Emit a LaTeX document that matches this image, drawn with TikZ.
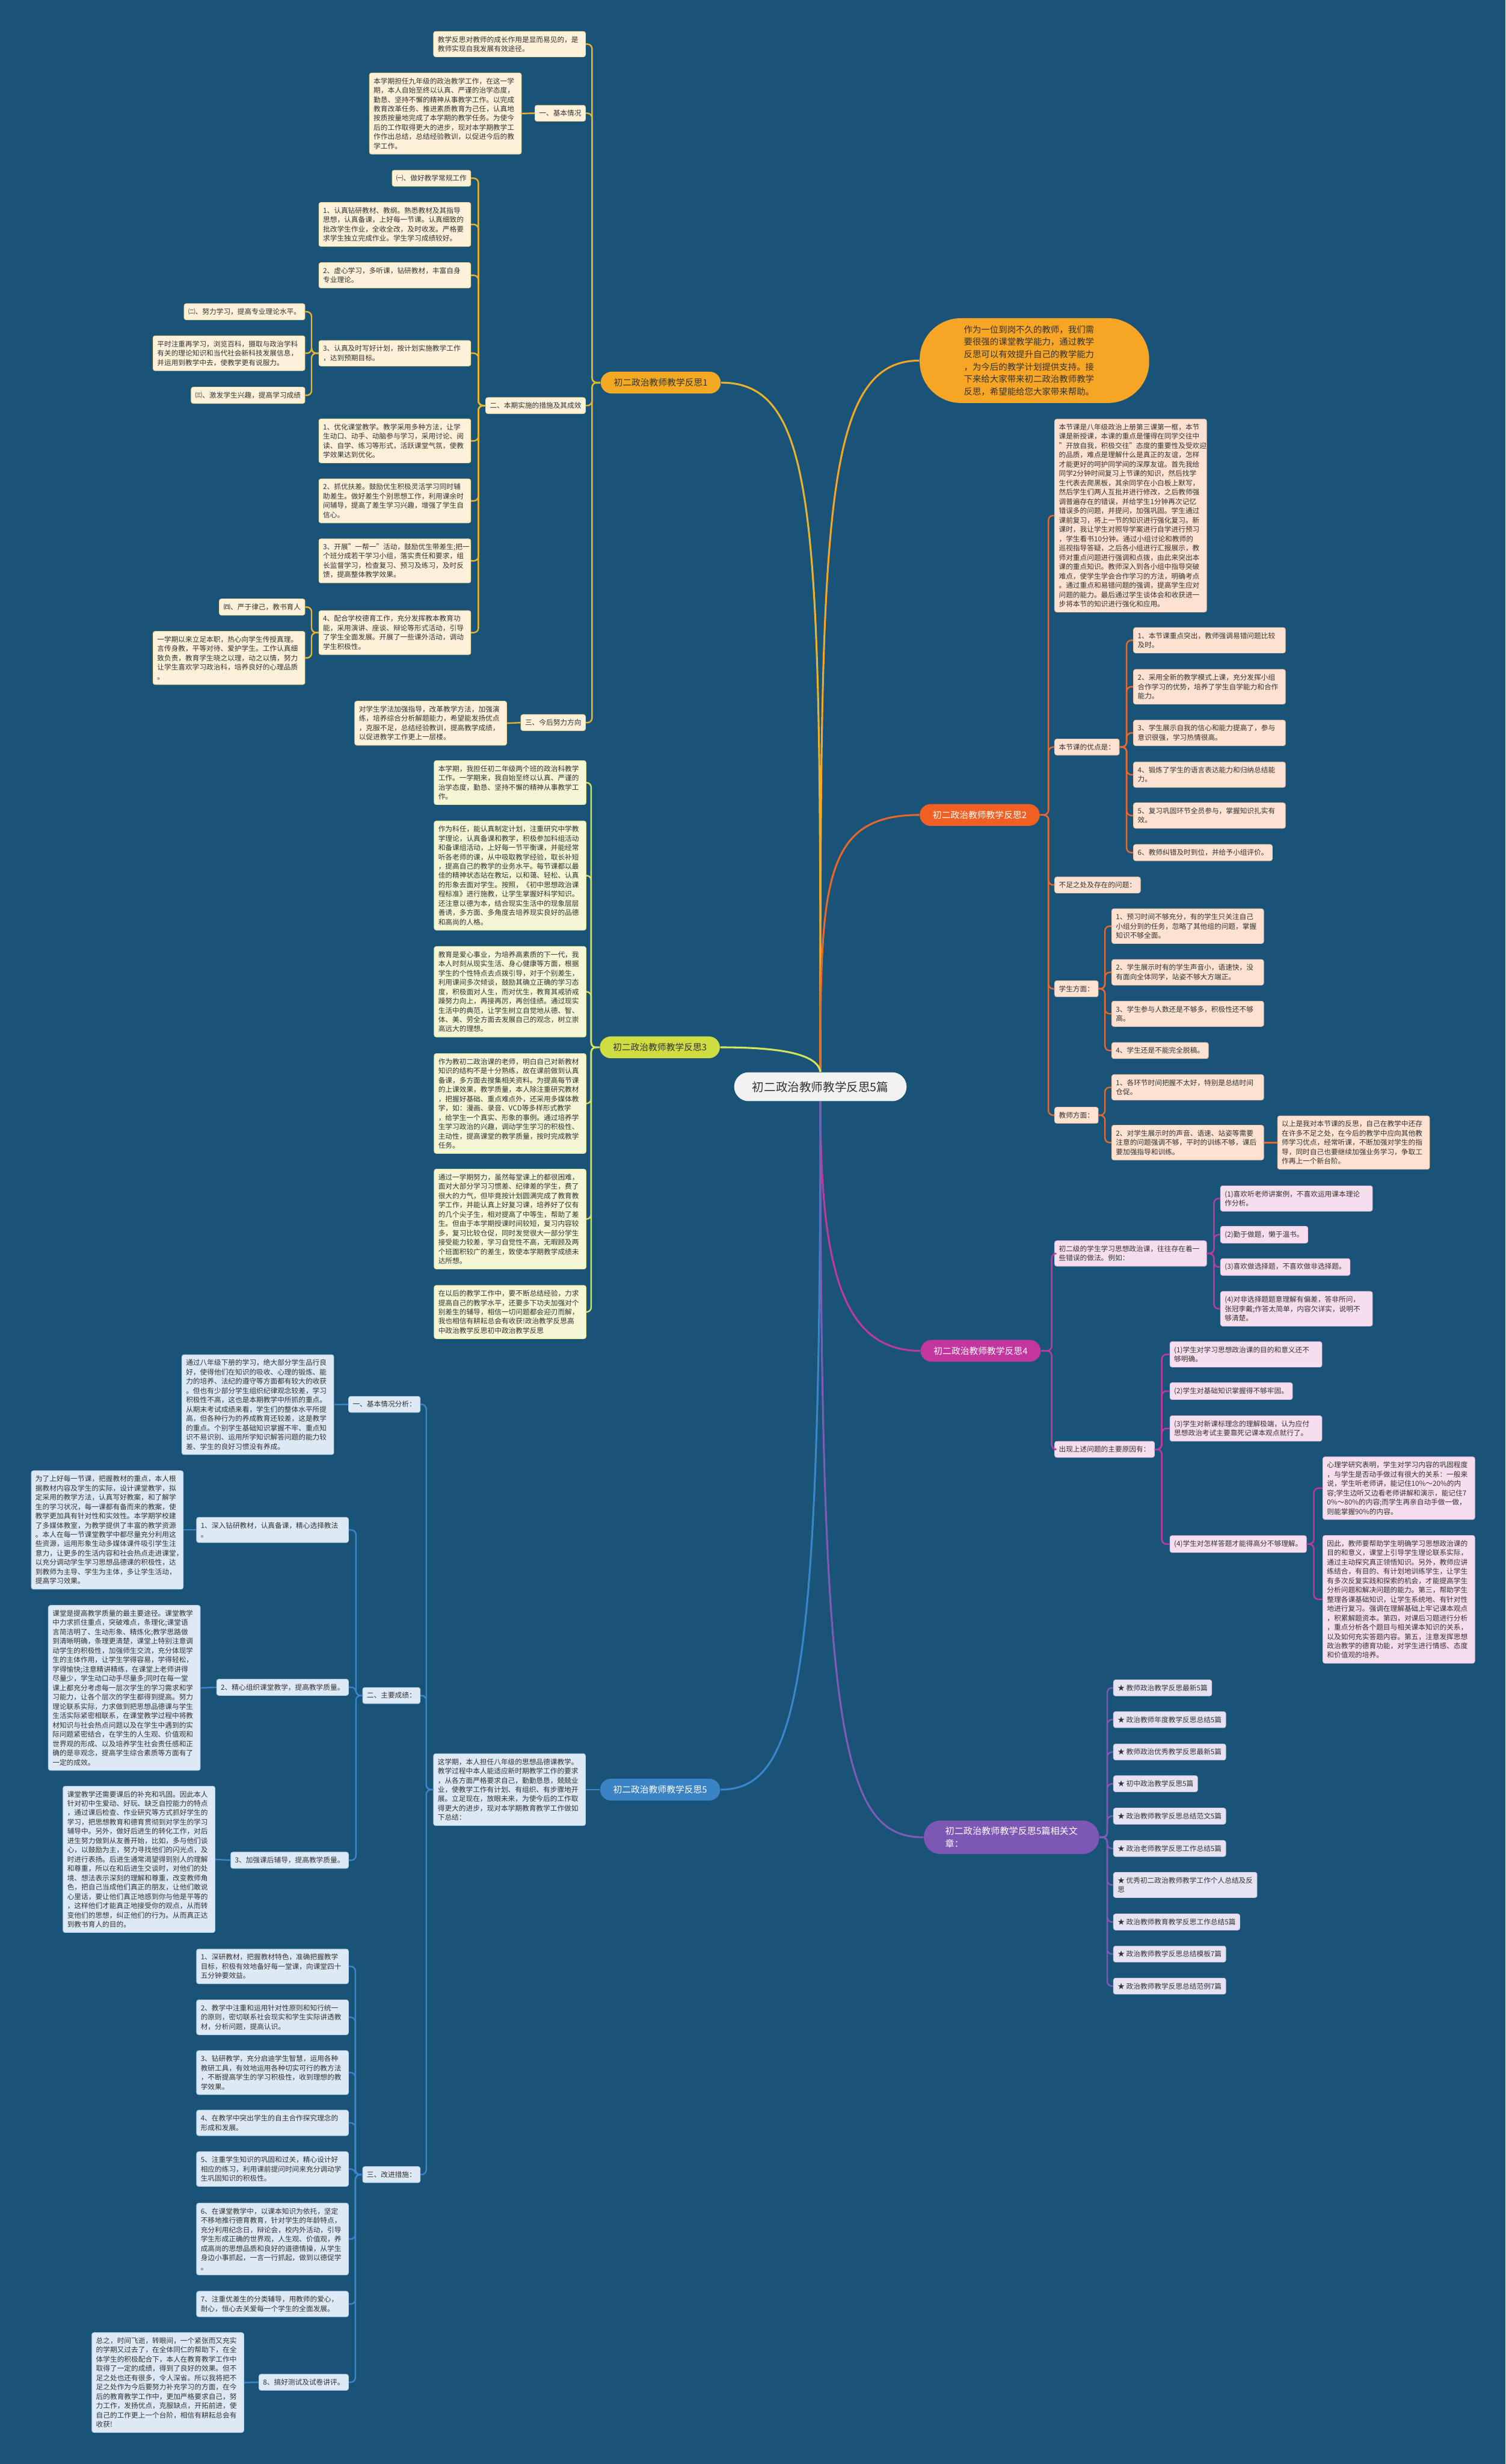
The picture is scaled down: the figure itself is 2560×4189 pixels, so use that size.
\documentclass[tikz,border=0pt]{standalone}
\usepackage{fontspec}
\setmainfont{Noto Sans CJK SC}
\definecolor{bgblue}{HTML}{1A5378}
\definecolor{ink}{HTML}{333333}
\definecolor{rootfill}{HTML}{F2F2F2}
\definecolor{goldline}{HTML}{E8B42C}
\definecolor{goldfill}{HTML}{F4A922}
\definecolor{goldleaf}{HTML}{FDF1D9}
\definecolor{introfill}{HTML}{F6A524}
\definecolor{redline}{HTML}{E9672A}
\definecolor{redfill}{HTML}{F15F22}
\definecolor{redleaf}{HTML}{FDE2D2}
\definecolor{limeline}{HTML}{D6E35C}
\definecolor{limefill}{HTML}{CFDC42}
\definecolor{limeleaf}{HTML}{F4F6D6}
\definecolor{pinkline}{HTML}{C03A9C}
\definecolor{pinkfill}{HTML}{C2369E}
\definecolor{pinkleaf}{HTML}{F7DEEF}
\definecolor{blueline}{HTML}{3B86C9}
\definecolor{bluefill}{HTML}{3A84C6}
\definecolor{blueleaf}{HTML}{DDE9F5}
\definecolor{purpleline}{HTML}{7F5AB6}
\definecolor{purplefill}{HTML}{7D57B4}
\definecolor{purpleleaf}{HTML}{E7E2F1}
\newcommand\bodyfont{\fontsize{3.4}{4.5}\selectfont}
\newcommand\branchfont{\fontsize{4.3}{5.4}\selectfont}
\newcommand\rootfont{\fontsize{5.7}{7}\selectfont}
\newcommand\introfont{\fontsize{4.2}{6}\selectfont}
\begin{document}
\begin{tikzpicture}[x=0.01cm, y=-0.01cm,
  rootbox/.style={fill=rootfill, text=ink, rounded corners=0.245cm, minimum width=2.93cm, minimum height=0.49cm, inner sep=0pt, font=\rootfont},
  branchbox/.style={rounded corners=0.185cm, minimum width=2.04cm, minimum height=0.37cm, inner sep=0pt, font=\branchfont},
  leaf/.style={rounded corners=0.035cm, inner xsep=0.07cm, inner ysep=0.08cm, align=left, text=ink, font=\bodyfont, line width=0.3pt},
  para/.style={leaf, text width=2.44cm},
  tone1/.style={fill=goldleaf, draw=goldline!45},
  tone2/.style={fill=redleaf, draw=redline!35},
  tone3/.style={fill=limeleaf, draw=limeline!60},
  tone4/.style={fill=pinkleaf, draw=pinkline!30},
  tone5/.style={fill=blueleaf, draw=blueline!35},
  tone6/.style={fill=purpleleaf, draw=purpleline!30},
  link/.style={line width=0.7pt, rounded corners=0.08cm},
  mainlink/.style={line width=0.9pt}
]
\useasboundingbox (0,0) rectangle (2560,4189);
\fill[bgblue] (0,0) rectangle (2560,4189);

\node[rootbox] (root) at (1395,1847.5) {初二政治教师教学反思5篇};
\node[branchbox, fill=goldfill, text=ink] (b1) at (1123.5,650.5) {初二政治教师教学反思1};
\node[fill=introfill, text=ink, rounded corners=0.7cm, minimum width=3.9cm, minimum height=1.44cm, text width=2.40cm, align=left, font=\introfont, inner sep=0pt] (intro) at (1759,613) {作为一位到岗不久的教师，我们需\\要很强的课堂教学能力，通过教学\\反思可以有效提升自己的教学能力\\，为今后的教学计划提供支持。接\\下来给大家带来初二政治教师教学\\反思，希望能给您大家带来帮助。};
\node[branchbox, fill=redfill, text=white] (b2) at (1666,1385.5) {初二政治教师教学反思2};
\node[branchbox, fill=limefill, text=ink] (b3) at (1122,1780.5) {初二政治教师教学反思3};
\node[branchbox, fill=pinkfill, text=white] (b4) at (1667.5,2296.5) {初二政治教师教学反思4};
\node[branchbox, fill=bluefill, text=white] (b5) at (1122.5,3042.5) {初二政治教师教学反思5};
\node[branchbox, fill=purplefill, text=white, minimum width=2.98cm, minimum height=0.57cm, rounded corners=0.28cm, align=left, font=\fontsize{4.4}{6}\selectfont] (b6) at (1720,3123.5) {初二政治教师教学反思5篇相关文\\章：};

\draw[mainlink, goldline] (root.north) .. controls (1395,900) and (1395,650.5) .. (b1.east);
\draw[mainlink, introfill] (root.north) .. controls (1395,900) and (1395,613) .. (intro.west);
\draw[mainlink, redline] (root.north) .. controls (1395,1500) and (1400,1385.5) .. (b2.west);
\draw[mainlink, limeline] (root.north) .. controls (1390,1790) and (1320,1780.5) .. (b3.east);
\draw[mainlink, pinkline] (root.south) .. controls (1395,2150) and (1430,2296.5) .. (b4.west);
\draw[mainlink, blueline] (root.south) .. controls (1395,2850) and (1360,3042.5) .. (b5.east);
\draw[mainlink, purpleline] (root.south) .. controls (1395,2950) and (1430,3123.5) .. (b6.west);

\node[para, tone1, anchor=east] (b1a) at (996,75) {教学反思对教师的成长作用是显而易见的，是\\教师实现自我发展有效途径。};
\node[leaf, tone1, anchor=east] (b1b) at (996,192.5) {一、基本情况};
\node[para, tone1, anchor=east] (b1b1) at (887,193) {本学期担任九年级的政治教学工作，在这一学\\期，本人自始至终以认真、严谨的治学态度，\\勤恳、坚持不懈的精神从事教学工作。以完成\\教育改革任务、推进素质教育为己任，认真地\\按质按量地完成了本学期的教学任务。为使今\\后的工作取得更大的进步，现对本学期教学工\\作作出总结，总结经验教训，以促进今后的教\\学工作。};
\node[leaf, tone1, anchor=east] (b1c) at (996,689.5) {二、本期实施的措施及其成效};
\node[leaf, tone1, anchor=east] (b1d) at (996,1228.5) {三、今后努力方向};
\node[para, tone1, anchor=east] (b1d1) at (862,1229.5) {对学生学法加强指导，改革教学方法，加强演\\练，培养综合分析解题能力，希望能发扬优点\\，克服不足，总结经验教训，提高教学成绩，\\以促进教学工作更上一层楼。};
\foreach \n in {b1a,b1b,b1c,b1d}
  \draw[link, goldline] (b1.west) -- ++(-14,0) |- (\n.east);
\draw[link, goldline] (b1b.west) -- (b1b1.east);
\draw[link, goldline] (b1d.west) -- (b1d1.east);

\node[leaf, tone1, anchor=east] (c1) at (801,303) {㈠、做好教学常规工作};
\draw[link, goldline] (b1c.west) -- ++(-12,0) |- (c1.east);
\foreach \i/\yy/\txt in {
  2/381.5/{1、认真钻研教材、教纲。熟悉教材及其指导\\思想，认真备课，上好每一节课。认真细致的\\批改学生作业，全收全改，及时收发。严格要\\求学生独立完成作业。学生学习成绩较好。},
  3/468/{2、虚心学习，多听课，钻研教材，丰富自身\\专业理论。},
  4/600.5/{3、认真及时写好计划，按计划实施教学工作\\，达到预期目标。},
  5/749.5/{1、优化课堂教学。教学采用多种方法，让学\\生动口、动手、动脑参与学习，采用讨论、阅\\读、自学、练习等形式，活跃课堂气氛，使教\\学效果达到优化。},
  6/851.5/{2、抓优扶差。鼓励优生积极灵活学习同时辅\\助差生。做好差生个别思想工作，利用课余时\\间辅导，提高了差生学习兴趣，增强了学生自\\信心。},
  7/953.5/{3、开展"一帮一"活动，鼓励优生带差生;把一\\个班分成若干学习小组，落实责任和要求，组\\长监督学习，检查复习、预习及练习，及时反\\馈，提高整体教学效果。},
  8/1075.5/{4、配合学校德育工作，充分发挥教本教育功\\能，采用演讲、座谈、辩论等形式活动，引导\\了学生全面发展。开展了一些课外活动，调动\\学生积极性。}} {
  \node[para, tone1, anchor=east] (c\i) at (801,\yy) {\txt};
  \draw[link, goldline] (b1c.west) -- ++(-12,0) |- (c\i.east);
}
\node[leaf, tone1, anchor=east] (c4a) at (519,530) {㈡、努力学习，提高专业理论水平。};
\node[para, tone1, anchor=east] (c4b) at (519,600.5) {平时注重再学习，浏览百科，摄取与政治学科\\有关的理论知识和当代社会新科技发展信息，\\并运用到教学中去，使教学更有说服力。};
\node[leaf, tone1, anchor=east] (c4c) at (519,672) {㈢、激发学生兴趣，提高学习成绩};
\node[leaf, tone1, anchor=east] (c8a) at (519,1032) {㈣、严于律己，教书育人};
\node[para, tone1, anchor=east] (c8b) at (519,1118.5) {一学期以来立足本职，热心向学生传授真理。\\言传身教，平等对待、爱护学生。工作认真细\\致负责，教育学生晓之以理，动之以情，努力\\让学生喜欢学习政治科，培养良好的心理品质\\。};
\foreach \n in {c4a,c4b,c4c}
  \draw[link, goldline] (c4.west) -- ++(-12,0) |- (\n.east);
\foreach \n in {c8a,c8b}
  \draw[link, goldline] (c8.west) -- ++(-12,0) |- (\n.east);

\node[para, tone2, anchor=west] (d1) at (1793,876.5) {本节课是八年级政治上册第三课第一框，本节\\课是新授课，本课的重点是懂得在同学交往中\\"开放自我，积极交往"态度的重要性及受欢迎\\的品质，难点是理解什么是真正的友谊，怎样\\才能更好的呵护同学间的深厚友谊。首先我给\\同学2分钟时间复习上节课的知识，然后找学\\生代表去爬黑板，其余同学在小白板上默写，\\然后学生们两人互批并进行修改，之后教师强\\调普遍存在的错误，并给学生1分钟再次记忆\\错误多的问题，并提问，加强巩固。学生通过\\课前复习，将上一节的知识进行强化复习。新\\课时，我让学生对照导学案进行自学进行预习\\，学生看书10分钟。通过小组讨论和教师的\\巡视指导答疑，之后各小组进行汇报展示，教\\师对重点问题进行强调和点拨，由此来突出本\\课的重点知识。教师深入到各小组中指导突破\\难点，使学生学会合作学习的方法，明确考点\\。通过重点和易错问题的强调，提高学生应对\\问题的能力。最后通过学生谈体会和收获进一\\步将本节的知识进行强化和应用。};
\node[leaf, tone2, anchor=west] (d2) at (1793,1270) {本节课的优点是：};
\node[leaf, tone2, anchor=west] (d3) at (1793,1504.5) {不足之处及存在的问题：};
\node[leaf, tone2, anchor=west] (d4) at (1793,1681) {学生方面：};
\node[leaf, tone2, anchor=west] (d5) at (1793,1896) {教师方面：};
\foreach \n in {d1,d2,d3,d4,d5}
  \draw[link, redline] (b2.east) -- ++(14,0) |- (\n.west);
\foreach \i/\yy/\txt in {
  a/1088.5/{1、本节课重点突出，教师强调易错问题比较\\及时。},
  b/1167.5/{2、采用全新的教学模式上课，充分发挥小组\\合作学习的优势，培养了学生自学能力和合作\\能力。},
  c/1246/{3、学生展示自我的信心和能力提高了，参与\\意识很强，学习热情很高。},
  d/1317/{4、锻炼了学生的语言表达能力和归纳总结能\\力。},
  e/1386.5/{5、复习巩固环节全员参与，掌握知识扎实有\\效。}} {
  \node[para, tone2, anchor=west] (d2\i) at (1927,\yy) {\txt};
  \draw[link, redline] (d2.east) -- ++(12,0) |- (d2\i.west);
}
\node[leaf, tone2, anchor=west] (d2f) at (1927,1449.5) {6、教师纠错及时到位，并给予小组评价。};
\draw[link, redline] (d2.east) -- ++(12,0) |- (d2f.west);
\node[para, tone2, anchor=west] (d4a) at (1890,1574.5) {1、预习时间不够充分，有的学生只关注自己\\小组分到的任务，忽略了其他组的问题，掌握\\知识不够全面。};
\node[para, tone2, anchor=west] (d4b) at (1890,1653) {2、学生展示时有的学生声音小，语速快，没\\有面向全体同学，站姿不够大方端正。};
\node[para, tone2, anchor=west] (d4c) at (1890,1723.5) {3、学生参与人数还是不够多，积极性还不够\\高。};
\node[leaf, tone2, anchor=west] (d4d) at (1890,1786) {4、学生还是不能完全脱稿。};
\foreach \n in {d4a,d4b,d4c,d4d}
  \draw[link, redline] (d4.east) -- ++(11,0) |- (\n.west);
\node[para, tone2, anchor=west] (d5a) at (1890,1848.5) {1、各环节时间把握不太好，特别是总结时间\\仓促。};
\node[para, tone2, anchor=west] (d5b) at (1890,1942.5) {2、对学生展示时的声音、语速、站姿等需要\\注意的问题强调不够，平时的训练不够，课后\\要加强指导和训练。};
\node[para, tone2, anchor=west] (d5b1) at (2172,1942.5) {以上是我对本节课的反思，自己在教学中还存\\在许多不足之处，在今后的教学中应向其他教\\师学习优点，经常听课，不断加强对学生的指\\导，同时自己也要继续加强业务学习，争取工\\作再上一个新台阶。};
\foreach \n in {d5a,d5b}
  \draw[link, redline] (d5.east) -- ++(11,0) |- (\n.west);
\draw[link, redline] (d5b.east) -- (d5b1.west);

\foreach \i/\yy/\txt in {
  1/1330.5/{本学期，我担任初二年级两个班的政治科教学\\工作。一学期来，我自始至终以认真、严谨的\\治学态度，勤恳、坚持不懈的精神从事教学工\\作。},
  2/1488.5/{作为科任，能认真制定计划，注重研究中学教\\学理论，认真备课和教学，积极参加科组活动\\和备课组活动，上好每一节平衡课，并能经常\\听各老师的课，从中吸取教学经验，取长补短\\，提高自己的教学的业务水平。每节课都以最\\佳的精神状态站在教坛，以和蔼、轻松、认真\\的形象去面对学生。按照，《初中思想政治课\\程标准》进行施教，让学生掌握好科学知识。\\还注意以德为本，结合现实生活中的现象层层\\善诱，多方面、多角度去培养现实良好的品德\\和高尚的人格。},
  3/1686/{教育是爱心事业，为培养高素质的下一代，我\\本人时刻从现实生活、身心健康等方面，根据\\学生的个性特点去点拨引导，对于个别差生，\\利用课间多次倾谈，鼓励其确立正确的学习态\\度，积极面对人生，而对优生，教育其戒骄戒\\躁努力向上，再接再厉，再创佳绩。通过现实\\生活中的典范，让学生树立自觉地从德、智、\\体、美、劳全方面去发展自己的观念，树立崇\\高远大的理想。},
  4/1876/{作为教初二政治课的老师，明白自己对新教材\\知识的结构不是十分熟练，故在课前做到认真\\备课，多方面去搜集相关资料。为提高每节课\\的上课效果，教学质量，本人除注重研究教材\\，把握好基础、重点难点外，还采用多媒体教\\学，如：漫画、录音、VCD等多样形式教学\\，给学生一个真实、形象的事例。通过培养学\\生学习政治的兴趣，调动学生学习的积极性、\\主动性，提高课堂的教学质量，按时完成教学\\任务。},
  5/2072.5/{通过一学期努力，虽然每堂课上的都很困难，\\面对大部分学习习惯差、纪律差的学生，费了\\很大的力气，但毕竟按计划圆满完成了教育教\\学工作，并能认真上好复习课，培养好了仅有\\的几个尖子生，相对提高了中等生，帮助了差\\生。但由于本学期授课时间较短，复习内容较\\多，复习比较仓促，同时发觉很大一部分学生\\接受能力较差，学习自觉性不高，无暇顾及两\\个班面积较广的差生，致使本学期教学成绩未\\达所想。},
  6/2230.5/{在以后的教学工作中，要不断总结经验，力求\\提高自己的教学水平，还要多下功夫加强对个\\别差生的辅导，相信一切问题都会迎刃而解，\\我也相信有耕耘总会有收获!政治教学反思高\\中政治教学反思初中政治教学反思}} {
  \node[para, tone3, anchor=east] (e\i) at (997,\yy) {\txt};
  \draw[link, limeline] (b3.west) -- ++(-14,0) |- (e\i.east);
}

\node[para, tone4, anchor=west] (f1) at (1793,2131) {初二级的学生学习思想政治课，往往存在着一\\些错误的做法。例如：};
\node[leaf, tone4, anchor=west] (f2) at (1793,2464) {出现上述问题的主要原因有：};
\foreach \n in {f1,f2}
  \draw[link, pinkline] (b4.east) -- ++(18,0) |- (\n.west);
\node[para, tone4, anchor=west] (f1a) at (2075,2037.5) {(1)喜欢听老师讲案例，不喜欢运用课本理论\\作分析。};
\node[leaf, tone4, anchor=west] (f1b) at (2075,2099) {(2)勤于做题，懒于温书。};
\node[leaf, tone4, anchor=west] (f1c) at (2075,2154) {(3)喜欢做选择题，不喜欢做非选择题。};
\node[para, tone4, anchor=west] (f1d) at (2075,2225) {(4)对非选择题题意理解有偏差，答非所问，\\张冠李戴;作答太简单，内容欠详实，说明不\\够清楚。};
\foreach \n in {f1a,f1b,f1c,f1d}
  \draw[link, pinkline] (f1.east) -- ++(12,0) |- (\n.west);
\node[para, tone4, anchor=west] (f2a) at (1989,2302.5) {(1)学生对学习思想政治课的目的和意义还不\\够明确。};
\node[leaf, tone4, anchor=west] (f2b) at (1989,2365) {(2)学生对基础知识掌握得不够牢固。};
\node[para, tone4, anchor=west] (f2c) at (1989,2428.5) {(3)学生对新课标理念的理解极端，认为应付\\思想政治考试主要靠死记课本观点就行了。};
\node[leaf, tone4, anchor=west] (f2d) at (1989,2625) {(4)学生对怎样答题才能得高分不够理解。};
\foreach \n in {f2a,f2b,f2c,f2d}
  \draw[link, pinkline] (f2.east) -- ++(12,0) |- (\n.west);
\node[para, tone4, anchor=west] (f2d1) at (2249,2530) {心理学研究表明，学生对学习内容的巩固程度\\，与学生是否动手做过有很大的关系：一般来\\说，学生听老师讲，能记住10\%～20\%的内\\容;学生边听又边看老师讲解和演示，能记住7\\0\%～80\%的内容;而学生再亲自动手做一做，\\则能掌握90\%的内容。};
\node[para, tone4, anchor=west] (f2d2) at (2249,2719) {因此，教师要帮助学生明确学习思想政治课的\\目的和意义，课堂上引导学生理论联系实际，\\通过主动探究真正领悟知识。另外，教师应讲\\练结合，有目的、有计划地训练学生，让学生\\有多次反复实践和探索的机会，才能提高学生\\分析问题和解决问题的能力。第三，帮助学生\\整理各课基础知识，让学生系统地、有针对性\\地进行复习。强调在理解基础上牢记课本观点\\，积累解题资本。第四，对课后习题进行分析\\，重点分析各个题目与相关课本知识的关系，\\以及如何充实答题内容。第五，注意发挥思想\\政治教学的德育功能，对学生进行情感、态度\\和价值观的培养。};
\foreach \n in {f2d1,f2d2}
  \draw[link, pinkline] (f2d.east) -- ++(12,0) |- (\n.west);

\node[para, tone5, anchor=east] (g) at (996,3042.5) {这学期，本人担任八年级的思想品德课教学。\\教学过程中本人能适应新时期教学工作的要求\\，从各方面严格要求自己，勤勤恳恳，兢兢业\\业，使教学工作有计划、有组织、有步骤地开\\展。立足现在，放眼未来，为使今后的工作取\\得更大的进步，现对本学期教育教学工作做如\\下总结：};
\draw[link, blueline] (b5.west) -- (g.east);
\node[leaf, tone5, anchor=east] (g1) at (715,2387.5) {一、基本情况分析：};
\node[leaf, tone5, anchor=east] (g2) at (715,2882.5) {二、主要成绩：};
\node[leaf, tone5, anchor=east] (g3) at (715,3697) {三、改进措施：};
\foreach \n in {g1,g2,g3}
  \draw[link, blueline] (g.west) -- ++(-12,0) |- (\n.east);
\node[para, tone5, anchor=east] (g1a) at (568,2388) {通过八年级下册的学习，绝大部分学生品行良\\好，使得他们在知识的吸收、心理的锻炼、能\\力的培养、法纪的遵守等方面都有较大的收获\\。但也有少部分学生组织纪律观念较差，学习\\积极性不高，这也是本期教学中所抓的重点。\\从期末考试成绩来看，学生们的整体水平所提\\高，但各种行为的养成教育还较差，这是教学\\的重点。个别学生基础知识掌握不牢、重点知\\识不易识别、运用所学知识解答问题的能力较\\差、学生的良好习惯没有养成。};
\draw[link, blueline] (g1.west) -- (g1a.east);
\node[para, tone5, anchor=east] (g2a) at (593,2601) {1、深入钻研教材，认真备课，精心选择教法\\。};
\node[leaf, tone5, anchor=east] (g2b) at (593,2868.5) {2、精心组织课堂教学，提高教学质量。};
\node[leaf, tone5, anchor=east] (g2c) at (593,3162.5) {3、加强课后辅导，提高教学质量。};
\foreach \n in {g2a,g2b,g2c}
  \draw[link, blueline] (g2.west) -- ++(-11,0) |- (\n.east);
\node[para, tone5, anchor=east] (g2a1) at (312,2601) {为了上好每一节课，把握教材的重点，本人根\\据教材内容及学生的实际，设计课堂教学，拟\\定采用的教学方法，认真写好教案，和了解学\\生的学习状况，每一课都有备而来的教案，使\\教学更加具有针对性和实效性。本学期学校建\\了多媒体教室，为教学提供了丰富的教学资源\\。本人在每一节课堂教学中都尽量充分利用这\\些资源，运用形象生动多媒体课件吸引学生注\\意力，让更多的生活内容和社会热点走进课堂，\\以充分调动学生学习思想品德课的积极性，达\\到教师为主导、学生为主体，多让学生活动，\\提高学习效果。};
\node[para, tone5, anchor=east] (g2b1) at (341,2869.5) {课堂是提高教学质量的最主要途径。课堂教学\\中力求抓住重点，突破难点，条理化;课堂语\\言简洁明了、生动形象、精炼化;教学思路做\\到清晰明确，条理更清楚，课堂上特别注意调\\动学生的积极性，加强师生交流，充分体现学\\生的主体作用，让学生学得容易，学得轻松，\\学得愉快;注意精讲精练，在课堂上老师讲得\\尽量少，学生动口动手尽量多;同时在每一堂\\课上都充分考虑每一层次学生的学习需求和学\\习能力，让各个层次的学生都得到提高。努力\\理论联系实际，力求做到把思想品德课与学生\\生活实际紧密相联系，在课堂教学过程中将教\\材知识与社会热点问题以及在学生中遇到的实\\际问题紧密结合，在学生的人生观、价值观和\\世界观的形成、以及培养学生社会责任感和正\\确的是非观念，提高学生综合素质等方面有了\\一定的成效。};
\node[para, tone5, anchor=east] (g2c1) at (366,3161) {课堂教学还需要课后的补充和巩固。因此本人\\针对初中生爱动、好玩、缺乏自控能力的特点\\，通过课后检查、作业研究等方式抓好学生的\\学习，把思想教育和德育贯彻到对学生的学习\\辅导中。另外，做好后进生的转化工作，对后\\进生努力做到从友善开始，比如，多与他们谈\\心，以鼓励为主，努力寻找他们的闪光点，及\\时进行表扬。后进生通常渴望得到别人的理解\\和尊重，所以在和后进生交谈时，对他们的处\\境、想法表示深刻的理解和尊重，改变教师角\\色，把自己当成他们真正的朋友，让他们敢说\\心里话，要让他们真正地感到你与他是平等的\\，这样他们才能真正地接受你的观点，从而转\\变他们的思想，纠正他们的行为。从而真正达\\到教书育人的目的。};
\draw[link, blueline] (g2a.west) -- (g2a1.east);
\draw[link, blueline] (g2b.west) -- (g2b1.east);
\draw[link, blueline] (g2c.west) -- (g2c1.east);
\foreach \i/\yy/\txt in {
  a/3343/{1、深研教材，把握教材特色，准确把握教学\\目标，积极有效地备好每一堂课，向课堂四十\\五分钟要效益。},
  b/3429.5/{2、教学中注重和运用针对性原则和知行统一\\的原则，密切联系社会现实和学生实际讲透教\\材，分析问题，提高认识。},
  c/3523.5/{3、钻研教学，充分启迪学生智慧，运用各种\\教研工具，有效地运用各种切实可行的教方法\\，不断提高学生的学习积极性，收到理想的教\\学效果。},
  d/3609/{4、在教学中突出学生的自主合作探究理念的\\形成和发展。},
  e/3687.5/{5、注重学生知识的巩固和过关，精心设计好\\相应的练习，利用课前提问时间来充分调动学\\生巩固知识的积极性。},
  f/3806.5/{6、在课堂教学中，以课本知识为依托，坚定\\不移地推行德育教育，针对学生的年龄特点，\\充分利用纪念日，辩论会，校内外活动，引导\\学生形成正确的世界观，人生观、价值观，养\\成高尚的思想品质和良好的道德情操，从学生\\身边小事抓起，一言一行抓起，做到以德促学\\。},
  g/3917/{7、注重优差生的分类辅导，用教师的爱心，\\耐心，恒心去关爱每一个学生的全面发展。}} {
  \node[para, tone5, anchor=east] (g3\i) at (593,\yy) {\txt};
  \draw[link, blueline] (g3.west) -- ++(-12,0) |- (g3\i.east);
}
\node[leaf, tone5, anchor=east] (g3h) at (593,4050) {8、搞好测试及试卷讲评。};
\draw[link, blueline] (g3.west) -- ++(-12,0) |- (g3h.east);
\node[para, tone5, anchor=east] (g3h1) at (415,4050.5) {总之，时间飞逝，转眼间，一个紧张而又充实\\的学期又过去了，在全体同仁的帮助下，在全\\体学生的积极配合下，本人在教育教学工作中\\取得了一定的成绩，得到了良好的效果。但不\\足之处也还有很多，令人深省。所以我将把不\\足之处作为今后要努力补充学习的方面，在今\\后的教育教学工作中，更加严格要求自己，努\\力工作，发扬优点，克服缺点，开拓前进，使\\自己的工作更上一个台阶，相信有耕耘总会有\\收获!};
\draw[link, blueline] (g3h.west) -- (g3h1.east);

\foreach \i/\yy/\txt in {
  1/2869.5/{★ 教师政治教学反思最新5篇},
  2/2923.5/{★ 政治教师年度教学反思总结5篇},
  3/2978.5/{★ 教师政治优秀教学反思最新5篇},
  4/3032.5/{★ 初中政治教学反思5篇},
  5/3087.5/{★ 政治教师教学反思总结范文5篇},
  6/3142.5/{★ 政治老师教学反思工作总结5篇},
  7/3204.5/{★ 优秀初二政治教师教学工作个人总结及反\\思},
  8/3267.5/{★ 政治教师教育教学反思工作总结5篇},
  9/3322/{★ 政治教师教学反思总结模板7篇},
  10/3376.5/{★ 政治教师教学反思总结范例7篇}} {
  \node[leaf, tone6, anchor=west] (h\i) at (1893,\yy) {\txt};
  \draw[link, purpleline] (b6.east) -- ++(13,0) |- (h\i.west);
}
\end{tikzpicture}
\end{document}
